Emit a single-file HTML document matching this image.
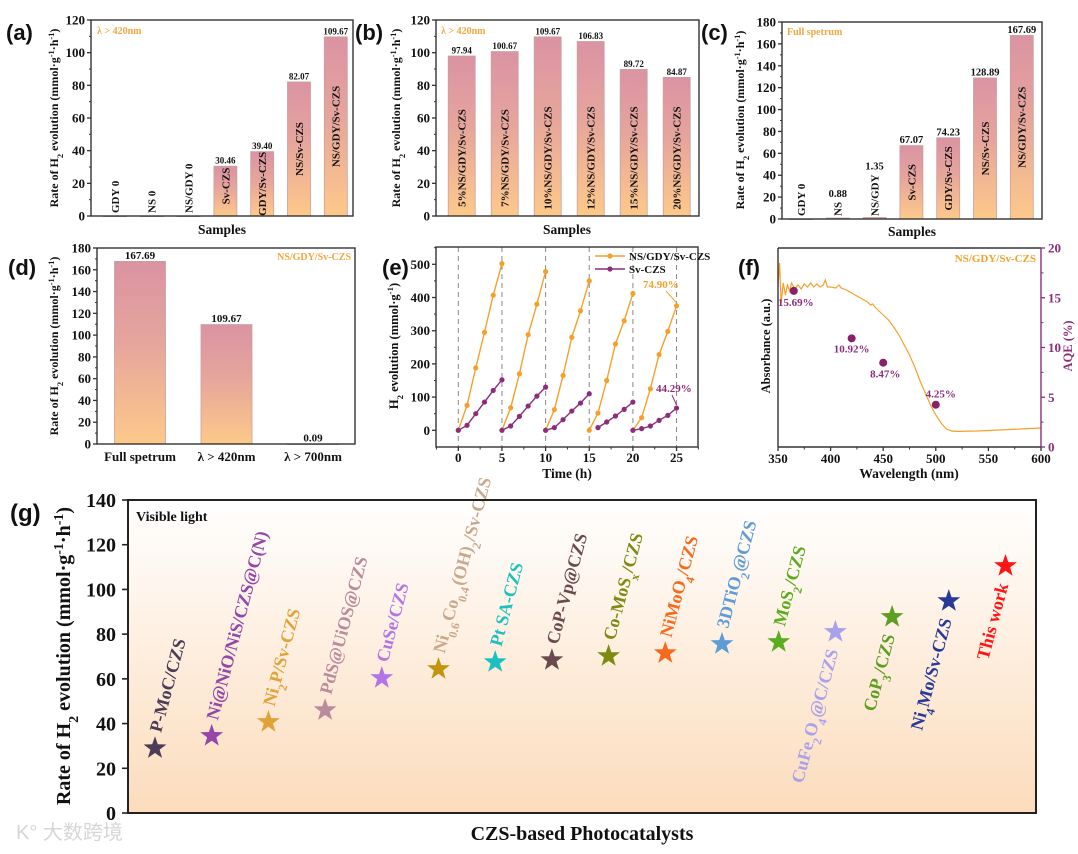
<!DOCTYPE html>
<html><head><meta charset="utf-8">
<style>
html,body{margin:0;padding:0;background:#fff;}
svg{display:block;font-family:"Liberation Serif",serif;}
.pl{font-family:"Liberation Sans",sans-serif;font-weight:bold;}
</style></head>
<body>
<svg id="fig" width="1078" height="854" viewBox="0 0 1078 854" xmlns="http://www.w3.org/2000/svg">
<defs>
<linearGradient id="barGrad" x1="0" y1="0" x2="0" y2="1">
<stop offset="0" stop-color="#da93a3"/><stop offset="0.45" stop-color="#e6a59c"/><stop offset="1" stop-color="#fdc98a"/>
</linearGradient>
<linearGradient id="gBg" x1="0" y1="0" x2="0" y2="1">
<stop offset="0" stop-color="#ffffff"/><stop offset="1" stop-color="#fcdcbc"/>
</linearGradient>
</defs>
</svg>
<script>
// ---------- data ----------
const aCats=["GDY","NS","NS/GDY","Sv-CZS","GDY/Sv-CZS","NS/Sv-CZS","NS/GDY/Sv-CZS"];
const aVals=[0,0,0,30.46,39.40,82.07,109.67];
const aLabels=["0","0","0","30.46","39.40","82.07","109.67"];
const bCats=["5%NS/GDY/Sv-CZS","7%NS/GDY/Sv-CZS","10%NS/GDY/Sv-CZS","12%NS/GDY/Sv-CZS","15%NS/GDY/Sv-CZS","20%NS/GDY/Sv-CZS"];
const bVals=[97.94,100.67,109.67,106.83,89.72,84.87];
const bLabels=["97.94","100.67","109.67","106.83","89.72","84.87"];
const cCats=["GDY","NS","NS/GDY","Sv-CZS","GDY/Sv-CZS","NS/Sv-CZS","NS/GDY/Sv-CZS"];
const cVals=[0,0.88,1.35,67.07,74.23,128.89,167.69];
const cLabels=["0","0.88","1.35","67.07","74.23","128.89","167.69"];
const dCats=["Full spetrum","λ > 420nm","λ > 700nm"];
const dVals=[167.69,109.67,0.09];
const dLabels=["167.69","109.67","0.09"];
const abTicks=[0,20,40,60,80,100,120];
const cdTicks=[0,20,40,60,80,100,120,140,160,180];
const eTime=[[0,1,2,3,4,5],[5,6,7,8,9,10],[10,11,12,13,14,15],[15,16,17,18,19,20],[20,21,22,23,24,25]];
const eCat=[[0,75,188,295,407,502],[0,68,170,288,380,478],[0,62,165,280,360,450],[0,52,150,260,330,412],[0,38,125,228,298,375]];
const eTimeSv=[[0,1,2,3,4,5],[5,6,7,8,9,10],[10,11,12,13,14,15],[16,17,18,19,20],[20,21,22,23,24,25]];
const eSv=[[0,15,50,85,120,152],[0,13,42,73,103,130],[0,8,32,58,82,110],[8,25,43,63,85],[0,5,13,30,45,67]];
const eXTicks=[0,5,10,15,20,25];
const eYTicks=[0,100,200,300,400,500];
const fWave=[350,351.5,353,355,357,359,361,363,366,369,372,375,378,381,384,387,390,393,395,397,400,405,408,410,415,420,425,430,435,438,440,443,446,450,455,460,465,470,475,480,485,490,495,500,505,510,515,520,540,560,580,600];
const fAbs=[0.80,0.92,0.72,0.82,0.76,0.81,0.78,0.82,0.79,0.81,0.79,0.815,0.80,0.82,0.80,0.815,0.80,0.81,0.835,0.80,0.80,0.795,0.81,0.795,0.785,0.77,0.755,0.74,0.725,0.71,0.715,0.695,0.68,0.66,0.635,0.60,0.56,0.51,0.46,0.40,0.33,0.27,0.21,0.16,0.12,0.09,0.08,0.078,0.08,0.085,0.09,0.095];
const fAqeWave=[365,420,450,500];
const fAqe=[15.69,10.92,8.47,4.25];
const fAqeLabels=["15.69%","10.92%","8.47%","4.25%"];
const fXTicks=[350,400,450,500,550,600];
const fYTicks=[0,5,10,15,20];
const gCats=["P-MoC/CZS","Ni@NiO/NiS/CZS@C(N)","Ni<tspan baseline-shift='sub' font-size='12'>2</tspan>P/Sv-CZS","PdS@UiOS@CZS","CuSe/CZS","Ni<tspan baseline-shift='sub' font-size='12'>0.6</tspan>Co<tspan baseline-shift='sub' font-size='12'>0.4</tspan>(OH)<tspan baseline-shift='sub' font-size='12'>2</tspan>/Sv-CZS","Pt SA-CZS","CoP-Vp@CZS","Co-MoS<tspan baseline-shift='sub' font-size='12'>x</tspan>/CZS","NiMoO<tspan baseline-shift='sub' font-size='12'>4</tspan>/CZS","3DTiO<tspan baseline-shift='sub' font-size='12'>2</tspan>@CZS","MoS<tspan baseline-shift='sub' font-size='12'>2</tspan>/CZS","CuFe<tspan baseline-shift='sub' font-size='12'>2</tspan>O<tspan baseline-shift='sub' font-size='12'>4</tspan>@C/CZS","CoP<tspan baseline-shift='sub' font-size='12'>3</tspan>/CZS","Ni<tspan baseline-shift='sub' font-size='12'>4</tspan>Mo/Sv-CZS","This work"];
const gVals=[29,34.5,40.7,46,60.4,64.4,67.5,68.4,70.2,71.5,75.6,76.5,81,87.7,94.8,110.5];
const gYTicks=[0,20,40,60,80,100,120,140];

// ---------- styling (not data) ----------
const gStarCol=["#4b3c58","#9447a8","#e2a23a","#b98b9c","#b275e6","#c4940f","#1cc0c0","#6b4a4f","#7e8a12","#f56a1c","#5f9cd6","#5cac22","#a9a2ea","#5e9e22","#283a98","#ff1414"];
const gTextCol=["#4b3c58","#9447a8","#e2a23a","#b98b9c","#b275e6","#c9a98c","#1cc0c0","#6b4a4f","#7e8a12","#f56a1c","#5f9cd6","#5cac22","#a9a2ea","#5e9e22","#283a98","#ff1414"];
const gBelow=[0,0,0,0,0,0,0,0,0,0,0,0,1,1,1,1];

const NS='http://www.w3.org/2000/svg';
const svg=document.getElementById('fig');
function mk(tag,attrs,parent,name){
  const el=document.createElementNS(NS,tag);
  for(const k in attrs) el.setAttribute(k,attrs[k]);
  
  
  (parent||svg).appendChild(el);
  return el;
}
function txt(x,y,s,size,opts,parent,name){
  const o=Object.assign({x:x,y:y,'font-size':size,'font-weight':'bold',fill:'#111'},opts||{});
  const t=mk('text',o,parent,name);
  t.innerHTML=s;
  return t;
}
const TITLE="Rate of H<tspan baseline-shift='sub' font-size='70%'>2</tspan> evolution (mmol·g<tspan baseline-shift='super' font-size='70%'>-1</tspan>·h<tspan baseline-shift='super' font-size='70%'>-1</tspan>)";

function vTitle(x,cy,s,size,name,col){
  return txt(0,0,s,size,{'text-anchor':'middle',transform:`translate(${x},${cy}) rotate(-90)`,fill:col||'#111'},null,name);
}
function panelLabel(x,y,s,size,name){
  txt(x,y,s,size,{class:'pl','font-family':'Liberation Sans, sans-serif'},null,name);
}

function barPanel(p){
  const g=mk('g',{},null,p.name);
  const ys=v=>p.y0-(v/p.ymax)*(p.y0-p.top);
  p.ticks.forEach(t=>{
    const y=ys(t);
    mk('line',{x1:p.left-4,x2:p.left,y1:y,y2:y,stroke:'#333','stroke-width':1.3},g,'y-tick');
    txt(p.left-6,y+4.5,String(t),13,{'text-anchor':'end'},g,'y-tick-label');
  });
  for(let i=0;i<p.ticks.length-1;i++){
    const y=ys((p.ticks[i]+p.ticks[i+1])/2);
    mk('line',{x1:p.left-2,x2:p.left,y1:y,y2:y,stroke:'#333','stroke-width':1},g,'y-minor-tick');
  }
  p.vals.forEach((v,i)=>{
    const cx=p.x0+i*p.step;
    const yt=ys(v);
    const h=p.y0-yt;
    mk('rect',{x:cx-p.w/2,y:yt,width:p.w,height:Math.max(h,0.6),fill:'url(#barGrad)',stroke:'#c9a0a0','stroke-width':0.8},g,'bar-'+p.cats[i].toLowerCase().replace(/[^a-z0-9]+/g,'-'));
    if(p.inlineLabels){
      if(h<12){
        const s=(v===0)?p.cats[i]+' '+p.labels[i]:p.cats[i];
        const t=txt(0,0,s,p.cfs,{transform:`translate(${cx+p.cfs*0.35},${p.y0-3}) rotate(-90)`},g,'bar-label');
        if(v!==0){
          const L=t.getComputedTextLength();
          txt(cx,p.y0-3-L-5,p.labels[i],p.vfs,{'text-anchor':'middle'},g,'bar-value');
        }
        return;
      }
      const cy=(p.labelY!==undefined)?p.labelY:Math.min(yt+h/2,p.y0-30);
      txt(0,0,p.cats[i],p.cfs,{'text-anchor':'middle',transform:`translate(${cx+p.cfs*0.35},${cy}) rotate(-90)`},g,'bar-label');
    }
    txt(cx,yt-2.5,p.labels[i],p.vfs,{'text-anchor':'middle'},g,'bar-value');
  });
  mk('rect',{x:p.left,y:p.top,width:p.right-p.left,height:p.y0-p.top,fill:'none',stroke:'#333','stroke-width':1.4},g,'plot-frame');
}

// (a)
barPanel({name:'panel-a',cats:aCats,vals:aVals,labels:aLabels,left:91,right:353,top:20,y0:216,ymax:120,ticks:abTicks,x0:115,step:36.8,w:23,inlineLabels:true,cfs:11,vfs:9});
panelLabel(6,40,'(a)',22,'panel-a-label');
vTitle(58,118,TITLE,12,'panel-a-y-axis-title');
txt(222,234,'Samples',13.5,{'text-anchor':'middle'},null,'panel-a-x-axis-title');
txt(97,34,'λ &gt; 420nm',10,{fill:'#f5a640'},null,'panel-a-legend');
// (b)
barPanel({name:'panel-b',cats:bCats,vals:bVals,labels:bLabels,left:436,right:699,top:20,y0:216,ymax:120,ticks:abTicks,x0:461.7,step:43,w:27,inlineLabels:true,cfs:11,vfs:9,labelY:158});
panelLabel(355,40,'(b)',22,'panel-b-label');
vTitle(400,118,TITLE,12,'panel-b-y-axis-title');
txt(567,234,'Samples',13.5,{'text-anchor':'middle'},null,'panel-b-x-axis-title');
txt(441,34,'λ &gt; 420nm',10,{fill:'#f5a640'},null,'panel-b-legend');
// (c)
barPanel({name:'panel-c',cats:cCats,vals:cVals,labels:cLabels,left:782,right:1042,top:22,y0:219,ymax:180,ticks:cdTicks,x0:801,step:36.8,w:23,inlineLabels:true,cfs:11,vfs:10.5});
panelLabel(701,40,'(c)',22,'panel-c-label');
vTitle(744,120,TITLE,12,'panel-c-y-axis-title');
txt(912,236,'Samples',13.5,{'text-anchor':'middle'},null,'panel-c-x-axis-title');
txt(787,35,'Full spetrum',10,{fill:'#f5a640'},null,'panel-c-legend');
// (d)
barPanel({name:'panel-d',cats:dCats,vals:dVals,labels:dLabels,left:97,right:355,top:248,y0:444,ymax:180,ticks:cdTicks,x0:140,step:86.5,w:51,inlineLabels:false,cfs:11,vfs:11});
dCats.forEach((c,i)=>{txt(140+i*86.5,461,c,13,{'text-anchor':'middle'},null,'panel-d-category-label');});
panelLabel(8,275,'(d)',22,'panel-d-label');
vTitle(58,346,TITLE,12,'panel-d-y-axis-title');
txt(351,260,'NS/GDY/Sv-CZS',10,{fill:'#f5a640','text-anchor':'end'},null,'panel-d-legend');

// (e)
(function(){
  const g=mk('g',{},null,'panel-e');
  const L=436,R=698,T=247,B=447;
  const xs=t=>458.3+t*8.73, ys=v=>430.3-v*0.332;
  eXTicks.forEach(t=>{
    mk('line',{x1:xs(t),x2:xs(t),y1:T,y2:B,stroke:'#888','stroke-width':1,'stroke-dasharray':'5,4'},g,'cycle-divider');
    mk('line',{x1:xs(t),x2:xs(t),y1:B,y2:B+4,stroke:'#333','stroke-width':1.3},g,'x-tick');
    txt(xs(t),462,String(t),13,{'text-anchor':'middle'},g,'x-tick-label');
  });
  for(let t=-2.5;t<=27.5;t+=2.5){ if(t%5!==0) mk('line',{x1:xs(t),x2:xs(t),y1:B,y2:B+2.5,stroke:'#333','stroke-width':1},g,'x-minor-tick');}
  eYTicks.forEach(v=>{
    mk('line',{x1:L-4,x2:L,y1:ys(v),y2:ys(v),stroke:'#333','stroke-width':1.3},g,'y-tick');
    txt(L-6,ys(v)+4.5,String(v),13,{'text-anchor':'end'},g,'y-tick-label');
    mk('line',{x1:L-2,x2:L,y1:ys(v+50),y2:ys(v+50),stroke:'#333','stroke-width':1},g,'y-minor-tick');
  });
  function series(times,vals,col,name){
    times.forEach((ts,k)=>{
      const pts=ts.map((t,j)=>xs(t)+','+ys(vals[k][j])).join(' ');
      mk('polyline',{points:pts,fill:'none',stroke:col,'stroke-width':1.4},g,name+'-line');
      ts.forEach((t,j)=>mk('circle',{cx:xs(t),cy:ys(vals[k][j]),r:2.6,fill:col},g,name+'-point'));
    });
  }
  series(eTime,eCat,'#f6a02c','ns-gdy-sv-czs');
  series(eTimeSv,eSv,'#8c2d7c','sv-czs');
  mk('rect',{x:L,y:T,width:R-L,height:B-T,fill:'none',stroke:'#333','stroke-width':1.4},g,'plot-frame');
  mk('line',{x1:595,x2:625,y1:256,y2:256,stroke:'#f6a02c','stroke-width':1.4},g,'legend-line-ns-gdy');
  mk('circle',{cx:610,cy:256,r:2.6,fill:'#f6a02c'},g,'legend-marker-ns-gdy');
  txt(629,260,'NS/GDY/Sv-CZS',11,{},g,'legend-entry-ns-gdy');
  mk('line',{x1:595,x2:625,y1:269,y2:269,stroke:'#8c2d7c','stroke-width':1.4},g,'legend-line-sv');
  mk('circle',{cx:610,cy:269,r:2.6,fill:'#8c2d7c'},g,'legend-marker-sv');
  txt(629,273,'Sv-CZS',11,{},g,'legend-entry-sv');
  txt(643,288,'74.90%',11,{fill:'#f6a02c'},g,'retention-label-ns-gdy');
  mk('line',{x1:666,y1:291,x2:xs(25),y2:ys(375)-3,stroke:'#f6a02c','stroke-width':1},g,'retention-pointer');
  txt(656,392,'44.29%',11,{fill:'#8c2d7c'},g,'retention-label-sv');
  mk('line',{x1:672,y1:395,x2:xs(25),y2:ys(67)-3,stroke:'#8c2d7c','stroke-width':1},g,'retention-pointer');
  txt(567,478,'Time (h)',13.5,{'text-anchor':'middle'},g,'x-axis-title');
  vTitle(398,346,"H<tspan baseline-shift='sub' font-size='70%'>2</tspan> evolution (mmol·g<tspan baseline-shift='super' font-size='70%'>-1</tspan>)",12.5,'panel-e-y-axis-title');
  panelLabel(382,275,'(e)',22,'panel-e-label');
})();

// (f)
(function(){
  const g=mk('g',{},null,'panel-f');
  const L=778,R=1041,T=248,B=447;
  const xs=w=>L+(w-350)*(R-L)/250, ya=a=>B-a*200, yq=q=>B-q*(B-T)/20;
  fXTicks.forEach(w=>{
    mk('line',{x1:xs(w),x2:xs(w),y1:B,y2:B+4,stroke:'#333','stroke-width':1.3},g,'x-tick');
    txt(xs(w),463,String(w),13,{'text-anchor':'middle'},g,'x-tick-label');
    if(w<600) mk('line',{x1:xs(w+25),x2:xs(w+25),y1:B,y2:B+2.5,stroke:'#333','stroke-width':1},g,'x-minor-tick');
  });
  fYTicks.forEach(q=>{
    mk('line',{x1:R,x2:R+4,y1:yq(q),y2:yq(q),stroke:'#8c2d7c','stroke-width':1.3},g,'aqe-tick');
    txt(R+7,yq(q)+4.5,String(q),13,{fill:'#8c2d7c'},g,'aqe-tick-label');
    if(q<20) mk('line',{x1:R,x2:R+2.5,y1:yq(q+2.5),y2:yq(q+2.5),stroke:'#8c2d7c','stroke-width':1},g,'aqe-minor-tick');
  });
  const pts=fWave.map((w,i)=>xs(w)+','+ya(fAbs[i])).join(' ');
  mk('polyline',{points:pts,fill:'none',stroke:'#f6a02c','stroke-width':1.2},g,'absorbance-curve');
  const off=[[2,11],[0,10],[2,11],[5,-11]];
  fAqeWave.forEach((w,i)=>{
    mk('circle',{cx:xs(w),cy:yq(fAqe[i]),r:4,fill:'#8a1f6c'},g,'aqe-point');
    txt(xs(w)+off[i][0],yq(fAqe[i])+off[i][1]+4,fAqeLabels[i],11,{fill:'#8c2d7c','text-anchor':'middle'},g,'aqe-label');
  });
  mk('line',{x1:L,y1:T,x2:L,y2:B,stroke:'#333','stroke-width':1.4},g,'left-axis');
  mk('line',{x1:L,y1:B,x2:R,y2:B,stroke:'#333','stroke-width':1.4},g,'bottom-axis');
  mk('line',{x1:L,y1:T,x2:R,y2:T,stroke:'#333','stroke-width':1.4},g,'top-axis');
  mk('line',{x1:R,y1:T,x2:R,y2:B,stroke:'#8c2d7c','stroke-width':1.4},g,'aqe-axis');
  txt(1036,262,'NS/GDY/Sv-CZS',11,{fill:'#f6a02c','text-anchor':'end'},g,'legend-entry');
  txt(909,478,'Wavelength (nm)',13.5,{'text-anchor':'middle'},g,'x-axis-title');
  vTitle(770,346,'Absorbance (a.u.)',12.5,'absorbance-axis-title');
  vTitle(1072,346,'AQE (%)',12.5,'aqe-axis-title','#8c2d7c');
  panelLabel(738,275,'(f)',22,'panel-f-label');
})();

// (g)
(function(){
  const g=mk('g',{},null,'panel-g');
  const L=128,R=1036,T=500,B=813;
  const ys=v=>B-v*(B-T)/140, xs=i=>155+i*56.7;
  mk('rect',{x:L,y:T,width:R-L,height:B-T,fill:'url(#gBg)'},g,'plot-background');
  gYTicks.forEach(v=>{
    mk('line',{x1:L-6,x2:L,y1:ys(v),y2:ys(v),stroke:'#222','stroke-width':1.6},g,'y-tick');
    txt(L-12,ys(v)+7,String(v),20,{'text-anchor':'end'},g,'y-tick-label');
  });
  function star(cx,cy,r){
    let d='';
    for(let k=0;k<10;k++){
      const a=-Math.PI/2+k*Math.PI/5, rr=k%2?r*0.4:r;
      d+=(k?'L':'M')+(cx+rr*Math.cos(a)).toFixed(1)+','+(cy+rr*Math.sin(a)).toFixed(1);
    }
    return d+'Z';
  }
  gVals.forEach((v,i)=>{
    const x=xs(i), y=ys(v);
    mk('path',{d:star(x,y,12),fill:gStarCol[i]},g,'star-marker');
    if(gBelow[i]){
      txt(0,0,gCats[i],18,{'text-anchor':'end',fill:gTextCol[i],transform:`translate(${x+3},${y+19}) rotate(-75)`},g,'catalyst-label');
    }else{
      txt(0,0,gCats[i],18,{fill:gTextCol[i],transform:`translate(${x+6},${y-15}) rotate(-75)`},g,'catalyst-label');
    }
  });
  mk('rect',{x:L,y:T,width:R-L,height:B-T,fill:'none',stroke:'#222','stroke-width':2},g,'plot-frame');
  txt(136,521,'Visible light',14,{},g,'condition-label');
  txt(582,840,'CZS-based Photocatalysts',20,{'text-anchor':'middle'},g,'x-axis-title');
  vTitle(70,656,TITLE,20,'panel-g-y-axis-title');
  panelLabel(10,521,'(g)',24,'panel-g-label');
  txt(16,839,'K° 大数跨境',20,{fill:'#d6d6d6','font-family':'Liberation Sans, Noto Sans CJK SC, sans-serif','font-weight':'normal'},g,'watermark');
})();
</script>
</body></html>
